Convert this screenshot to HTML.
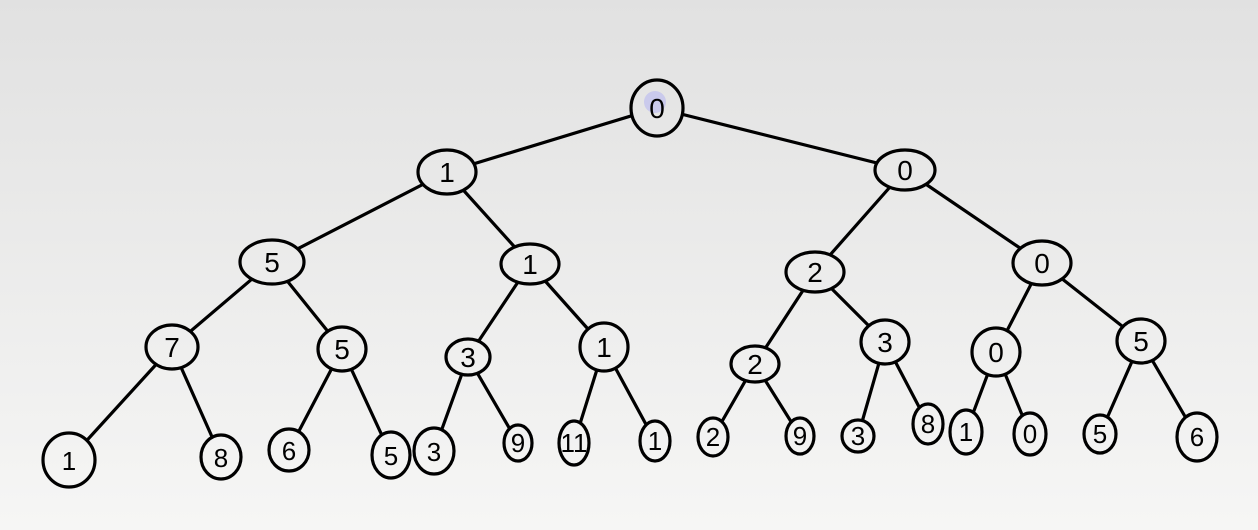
<!DOCTYPE html>
<html><head><style>html,body{margin:0;padding:0;width:1258px;height:530px;overflow:hidden}</style></head>
<body>
<svg width="1258" height="530" xmlns="http://www.w3.org/2000/svg">
<defs><linearGradient id="g" gradientUnits="userSpaceOnUse" x1="0" y1="0" x2="0" y2="530"><stop offset="0" stop-color="#e1e1e1"/><stop offset="1" stop-color="#f6f6f5"/></linearGradient></defs>
<rect width="1258" height="530" fill="url(#g)"/>
<g stroke="#000" stroke-width="3.2" stroke-linecap="round" fill="none">
<path d="M657,108 L447,172 M657,108 L905,170
M447,172 L272,262 M447,172 L530,264 M905,170 L815,272 M905,170 L1042,263
M272,262 L172,347 M272,262 L342,349 M530,264 L468,357 M530,264 L604,347
M815,272 L755,364 M815,272 L885,342 M1042,263 L996,352 M1042,263 L1141,341
M172,347 L69,460 M172,347 L221,457 M342,349 L289,450 M342,349 L391,455
M468,357 L434,451 M468,357 L518,443 M604,347 L574,443 M604,347 L655,441
M755,364 L713,437 M755,364 L800,436 M885,342 L858,436 M885,342 L928,424
M996,352 L966,432 M996,352 L1030,434 M1141,341 L1100,434 M1141,341 L1197,437"/>
</g>
<g stroke="#000" stroke-width="3.2" fill="url(#g)">
<ellipse cx="657" cy="108" rx="26" ry="28"/>
<ellipse cx="447" cy="172" rx="29" ry="22"/>
<ellipse cx="905" cy="170" rx="30" ry="20"/>
<ellipse cx="272" cy="262" rx="32" ry="22"/>
<ellipse cx="530" cy="264" rx="29" ry="20"/>
<ellipse cx="815" cy="272" rx="29" ry="20"/>
<ellipse cx="1042" cy="263" rx="29" ry="22"/>
<ellipse cx="172" cy="347" rx="26" ry="22"/>
<ellipse cx="342" cy="349" rx="24" ry="22"/>
<ellipse cx="468" cy="357" rx="22" ry="18"/>
<ellipse cx="604" cy="347" rx="24" ry="24"/>
<ellipse cx="755" cy="364" rx="24" ry="18"/>
<ellipse cx="885" cy="342" rx="24" ry="22"/>
<ellipse cx="996" cy="352" rx="24" ry="24"/>
<ellipse cx="1141" cy="341" rx="24" ry="22"/>
<ellipse cx="69" cy="460" rx="26" ry="27"/>
<ellipse cx="221" cy="457" rx="20" ry="22"/>
<ellipse cx="289" cy="450" rx="20" ry="21"/>
<ellipse cx="391" cy="455" rx="19" ry="23"/>
<ellipse cx="434" cy="451" rx="20" ry="23"/>
<ellipse cx="518" cy="443" rx="14" ry="18"/>
<ellipse cx="574" cy="443" rx="15" ry="22"/>
<ellipse cx="655" cy="441" rx="15" ry="20"/>
<ellipse cx="713" cy="437" rx="15" ry="19"/>
<ellipse cx="800" cy="436" rx="14" ry="18"/>
<ellipse cx="858" cy="436" rx="16" ry="16"/>
<ellipse cx="928" cy="424" rx="15" ry="20"/>
<ellipse cx="966" cy="432" rx="16" ry="22"/>
<ellipse cx="1030" cy="434" rx="16" ry="21"/>
<ellipse cx="1100" cy="434" rx="16" ry="19"/>
<ellipse cx="1197" cy="437" rx="20" ry="24"/>
</g>
<circle cx="655" cy="102" r="11" fill="#b8b8f0" opacity="0.6"/>
<g font-family="Liberation Sans, sans-serif" font-size="28" text-anchor="middle" fill="#000">
<text x="657" y="118">0</text>
<text x="447" y="182">1</text><text x="905" y="180">0</text>
<text x="272" y="272">5</text><text x="530" y="274">1</text><text x="815" y="282">2</text><text x="1042" y="273">0</text>
<text x="172" y="357">7</text><text x="342" y="359">5</text><text x="468" y="367">3</text><text x="604" y="357">1</text>
<text x="755" y="374">2</text><text x="885" y="352">3</text><text x="996" y="362">0</text><text x="1141" y="351">5</text>
</g>
<g font-family="Liberation Sans, sans-serif" font-size="26" text-anchor="middle" fill="#000">
<text x="69" y="470">1</text><text x="221" y="467">8</text><text x="289" y="460">6</text><text x="391" y="465">5</text>
<text x="434" y="461">3</text><text x="518" y="452">9</text><text x="574" y="452">11</text><text x="655" y="450">1</text>
<text x="713" y="446">2</text><text x="800" y="445">9</text><text x="858" y="445">3</text><text x="928" y="433">8</text>
<text x="966" y="441">1</text><text x="1030" y="443">0</text><text x="1100" y="443">5</text><text x="1197" y="446">6</text>
</g>
</svg>
</body></html>
